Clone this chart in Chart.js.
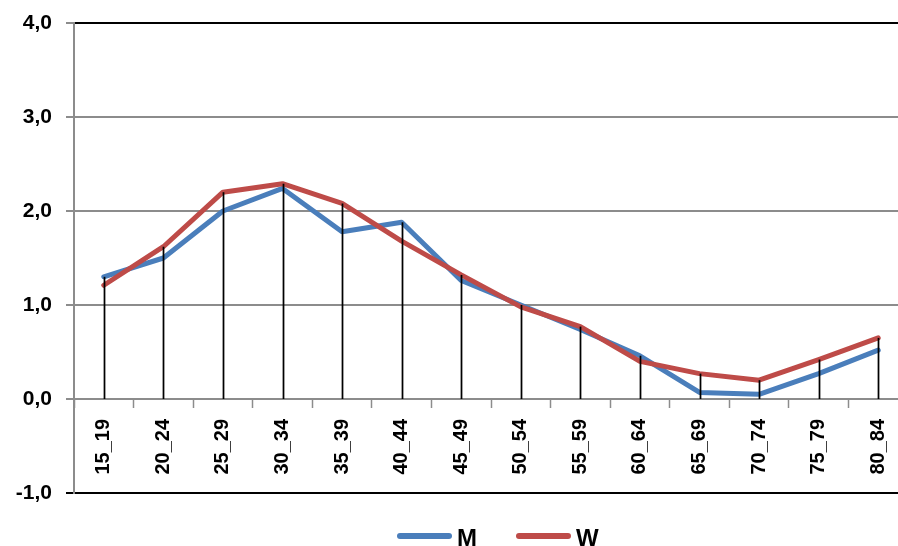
<!DOCTYPE html>
<html>
<head>
<meta charset="utf-8">
<script src="https://cdn.jsdelivr.net/npm/chart.js@4/dist/chart.umd.min.js"></script>
<style>
  html, body { margin: 0; padding: 0; background: #fff; overflow: hidden; }
  #wrap { width: 908px; height: 546px; }
</style>
</head>
<body>
<div id="wrap"><canvas id="c" width="908" height="546"></canvas></div>
<script>
// Age groups and values for the two series
const ageGroups = ['15_19', '20_24', '25_29', '30_34', '35_39', '40_44', '45_49',
                   '50_54', '55_59', '60_64', '65_69', '70_74', '75_79', '80_84'];
const seriesM = [1.30, 1.50, 2.00, 2.24, 1.78, 1.88, 1.26, 1.00, 0.74, 0.46, 0.07, 0.05, 0.27, 0.52];
const seriesW = [1.21, 1.62, 2.20, 2.29, 2.08, 1.68, 1.32, 0.98, 0.77, 0.40, 0.27, 0.20, 0.42, 0.65];
const yTicks = [-1, 0, 1, 2, 3, 4];

const FONT = '"Liberation Sans", Arial, sans-serif';
const GRID_GREY = '#8c8c8c';

// Axes keep no extra room for overhanging labels; the layout padding sets the plot box
const noScalePadding = s => {
  s.paddingLeft = 0; s.paddingRight = 0; s.paddingTop = 0; s.paddingBottom = 0;
};

// Vertical drop lines from the higher of the two series down to zero
const dropLines = {
  id: 'dropLines',
  afterDatasetsDraw(chart) {
    const { ctx, scales: { x, y } } = chart;
    ctx.save();
    ctx.strokeStyle = '#000';
    ctx.lineWidth = 1.75;
    ageGroups.forEach((g, i) => {
      const top = Math.max(seriesM[i], seriesW[i]);
      const px = Math.round(x.getPixelForValue(i)) + 0.5;
      ctx.beginPath();
      ctx.moveTo(px, y.getPixelForValue(0));
      ctx.lineTo(px, y.getPixelForValue(top));
      ctx.stroke();
    });
    ctx.restore();
  }
};

// Legend drawn as line swatches followed by the series name
const lineLegend = {
  id: 'lineLegend',
  afterDraw(chart, args, opts) {
    const ctx = chart.ctx;
    ctx.save();
    ctx.font = 'bold 24px ' + FONT;
    ctx.textBaseline = 'alphabetic';
    let x = opts.x;
    chart.data.datasets.forEach(ds => {
      ctx.strokeStyle = ds.borderColor;
      ctx.lineWidth = 6;
      ctx.lineCap = 'round';
      ctx.beginPath();
      ctx.moveTo(x + 3, opts.y);
      ctx.lineTo(x + opts.lineLen - 3, opts.y);
      ctx.stroke();
      ctx.fillStyle = '#000';
      const tx = x + opts.lineLen + opts.gap;
      ctx.fillText(ds.label, tx, opts.baseline);
      x = tx + ctx.measureText(ds.label).width + opts.spacing;
    });
    ctx.restore();
  }
};

new Chart(document.getElementById('c'), {
  type: 'line',
  data: {
    labels: ageGroups,
    datasets: [
      {
        label: 'M',
        data: seriesM,
        borderColor: '#4a7ebb',
        borderWidth: 5,
        pointRadius: 0,
        tension: 0,
        borderCapStyle: 'round',
        borderJoinStyle: 'round',
        order: 2
      },
      {
        label: 'W',
        data: seriesW,
        borderColor: '#be4b48',
        borderWidth: 5,
        pointRadius: 0,
        tension: 0,
        borderCapStyle: 'round',
        borderJoinStyle: 'round',
        order: 1
      }
    ]
  },
  options: {
    responsive: false,
    animation: false,
    layout: { padding: { top: 23, bottom: 53, left: 0, right: 0 } },
    plugins: {
      legend: { display: false },
      tooltip: { enabled: false },
      lineLegend: { x: 397, y: 536, lineLen: 55, gap: 5, spacing: 39, baseline: 545.5 }
    },
    scales: {
      x: {
        type: 'category',
        position: { y: 0 },
        offset: true,
        afterFit: noScalePadding,
        grid: {
          offset: true,
          drawOnChartArea: false,
          drawTicks: true,
          tickLength: 8,
          tickColor: GRID_GREY,
          tickWidth: 1.5
        },
        border: { display: true, color: GRID_GREY, width: 2 },
        ticks: {
          minRotation: 90,
          maxRotation: 90,
          autoSkip: false,
          padding: 12,
          color: '#000',
          font: { family: FONT, size: 20, weight: 'bold' }
        }
      },
      y: {
        min: -1,
        max: 4,
        afterBuildTicks: s => { s.ticks = yTicks.map(v => ({ value: v })); },
        afterFit: s => { s.width = 74; noScalePadding(s); },
        grid: {
          color: c => (c.tick && (c.tick.value === 4 || c.tick.value === -1)) ? '#000' : GRID_GREY,
          lineWidth: 2,
          tickLength: 8,
          tickColor: c => (c.tick && c.tick.value === -1) ? '#000' : GRID_GREY,
          tickWidth: 2
        },
        border: { display: true, color: GRID_GREY, width: 2 },
        ticks: {
          padding: 14,
          color: '#000',
          font: { family: FONT, size: 21, weight: 'bold' },
          callback: v => v.toFixed(1).replace('.', ',')
        }
      }
    }
  },
  plugins: [dropLines, lineLegend]
});
</script>
</body>
</html>
